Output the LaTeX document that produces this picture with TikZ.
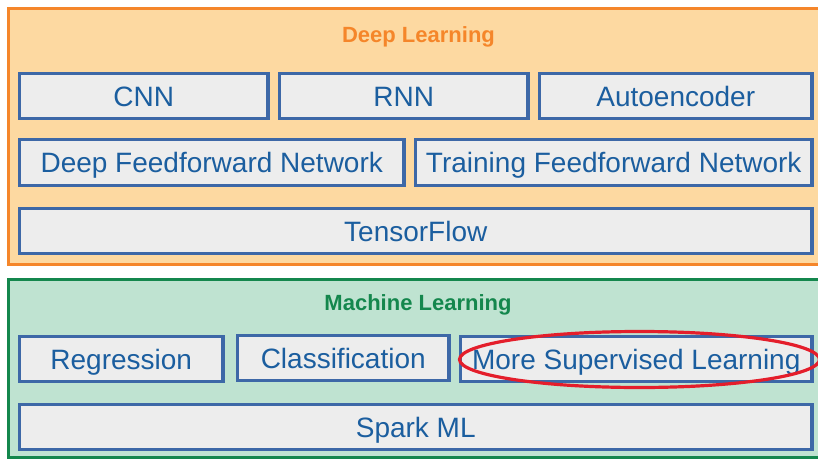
\documentclass[tikz,border=0pt]{standalone}
\usepackage{fontspec}
\setmainfont{Liberation Sans}
\usetikzlibrary{positioning}
\definecolor{orfill}{HTML}{FDD9A1}
\definecolor{ordraw}{HTML}{F5862A}
\definecolor{grfill}{HTML}{BFE3D1}
\definecolor{grdraw}{HTML}{14874D}
\definecolor{bxfill}{HTML}{EDEDED}
\definecolor{bxdraw}{HTML}{3D68A7}
\definecolor{bxtext}{HTML}{1B5E9F}
\definecolor{redring}{HTML}{E41E2B}
\tikzset{
  layer/.style={line width=3pt},
  item/.style={draw=bxdraw, fill=bxfill, line width=3.5pt, text=bxtext,
    font=\fontsize{28}{31}\selectfont, inner sep=0pt, outer sep=0pt,
    text height=20pt, text depth=0pt, anchor=north west},
  heading/.style={font=\fontsize{22}{25}\bfseries\selectfont, inner sep=0pt,
    text height=15.8pt, text depth=0pt}
}
\newcommand{\itembox}[6]{% name, x1, y1, x2, y2, text
  \node[item, minimum width={#4-#2}, minimum height={#5-#3}] (#1) at (#2,#3) {#6};}
\begin{document}
\begin{tikzpicture}[x=1pt,y=-1pt]
\useasboundingbox (0,0) rectangle (818,460);
\clip (0,0) rectangle (818,460);
% layers
\draw[layer, draw=ordraw, fill=orfill] (8.5,8.5) rectangle (840,264);
\draw[layer, draw=grdraw, fill=grfill] (8.5,279.5) rectangle (840,457);
\node[heading, text=ordraw] (dl) at (418.5,34.5) {Deep Learning};
\node[heading, text=grdraw] (ml) at (418,302.5) {Machine Learning};
% deep learning items
\itembox{cnn}{19.5}{73.5}{268}{118.5}{CNN}
\itembox{rnn}{279.5}{73.5}{528}{118.5}{RNN}
\itembox{ae}{539.5}{73.5}{812}{118.5}{Autoencoder}
\itembox{dff}{19.5}{139.5}{404}{185.5}{Deep Feedforward Network}
\itembox{tff}{415.5}{139.5}{812}{185.5}{Training Feedforward Network}
\itembox{tf}{19.5}{208.5}{812}{253.5}{TensorFlow}
% machine learning items
\itembox{reg}{19.5}{336.5}{223}{381.5}{Regression}
\itembox{cls}{237.5}{335.5}{449}{380.5}{Classification}
\itembox{msl}{460.5}{336.5}{812}{381.5}{More Supervised Learning}
\itembox{spark}{19.5}{404.5}{812}{449.5}{Spark ML}
% highlight
\draw[redring, line width=3.2pt] (639.5,359.5) ellipse [x radius=180, y radius=28];
\end{tikzpicture}
\end{document}
